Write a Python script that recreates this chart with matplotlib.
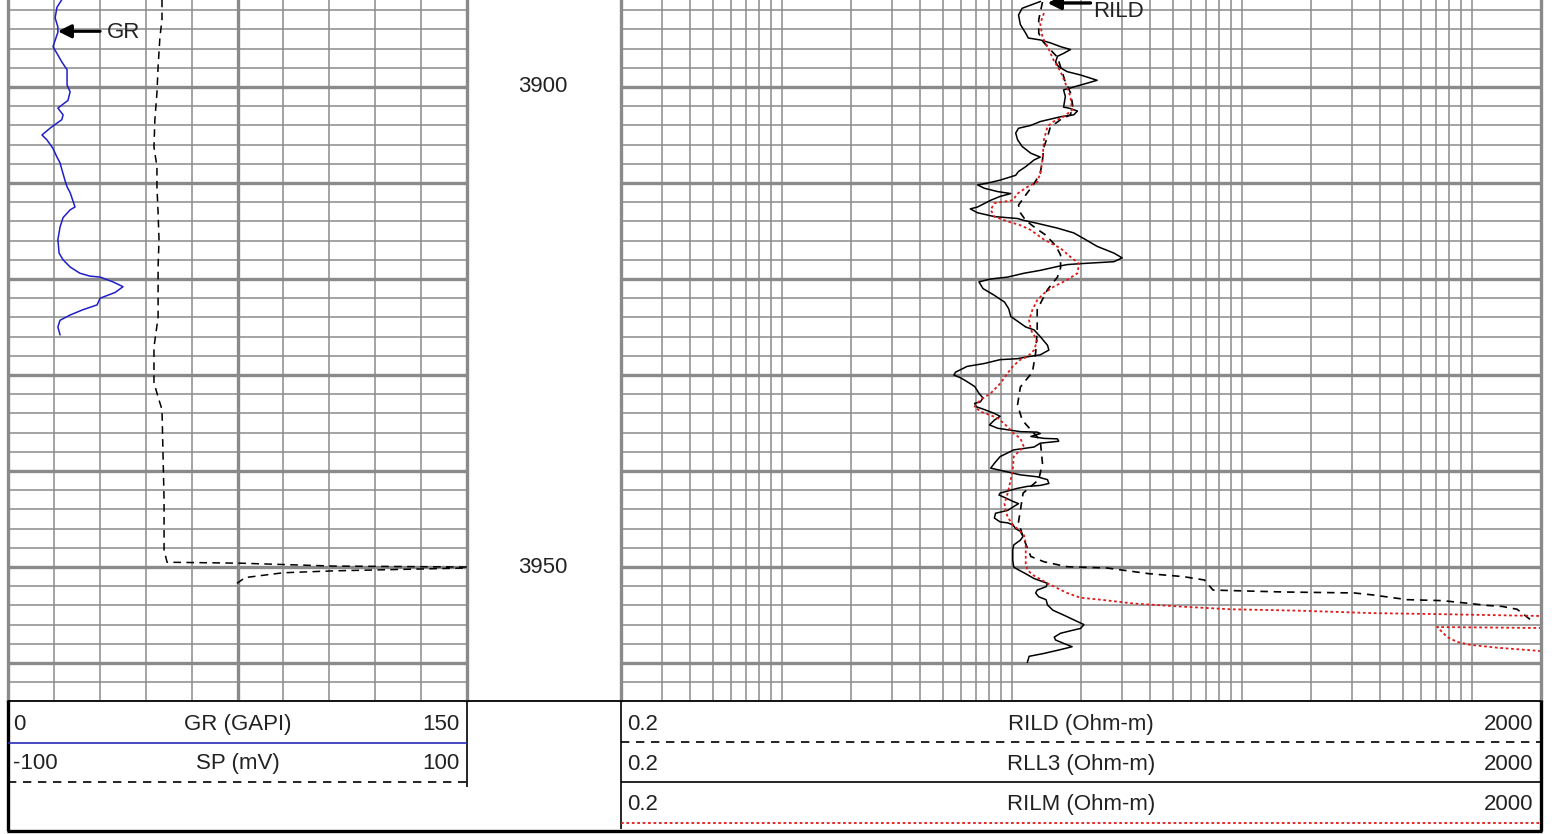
import matplotlib.pyplot as plt
import numpy as np
from matplotlib.ticker import MultipleLocator, FixedLocator, LogLocator

plt.rcParams['font.family'] = ['Liberation Sans', 'DejaVu Sans']

# depth window shown (m)
top_depth = 3890.94
base_depth = 3963.85
depth_labels = [3900, 3950]

# GR (GAPI)
gr_depth = [3890.9, 3891.7, 3892.8, 3893.75, 3894.3, 3895.8, 3896.5, 3897.4, 3898.2, 3899.8,
            3900.5, 3901.4, 3902.2, 3902.9, 3903.4, 3904.3, 3905.0, 3905.5, 3906.4, 3907.3,
            3907.9, 3908.6, 3909.7, 3910.4, 3911.0, 3912.5, 3912.8, 3913.6, 3914.6, 3915.9,
            3917.3, 3918.0, 3918.75, 3919.4, 3919.7, 3919.8, 3920.3, 3920.8, 3921.4, 3922.0,
            3922.7, 3923.2, 3923.75, 3924.3, 3925.0, 3925.8]
gr_value = [17.6, 16.0, 15.4, 16.3, 16.3, 14.7, 16.0, 17.6, 19.3, 19.3,
            20.3, 19.6, 16.3, 18.0, 17.6, 13.7, 11.1, 12.7, 14.7, 16.0,
            17.0, 17.6, 18.6, 19.3, 20.3, 21.9, 20.3, 18.0, 17.0, 16.3,
            16.7, 18.0, 20.3, 23.5, 26.8, 30.1, 34.3, 37.6, 35.0, 30.1,
            29.1, 24.5, 20.3, 17.0, 16.3, 17.0]

# SP (mV)
sp_depth = [3890.9, 3893.0, 3894.8, 3897.9, 3900.6, 3903.4, 3906.25, 3908.3, 3910.4, 3913.1,
            3915.9, 3918.75, 3921.5, 3924.0, 3927.1, 3930.8, 3932.3, 3933.6, 3937.8, 3943.0,
            3948.2, 3949.5, 3949.6, 3949.9, 3950.0, 3950.1, 3950.4, 3950.6, 3951.1, 3951.7]
sp_value = [-32.9, -32.9, -33.8, -34.6, -35.1, -36.0, -36.4, -35.1, -35.1, -34.6,
            -34.2, -34.6, -34.6, -34.6, -36.4, -36.4, -34.6, -32.9, -32.5, -32.0,
            -32.0, -30.7, 1.1, 41.6, 100, 100, 41.6, 19.8, 3.3, -0.2]

# RLL3 (Ohm-m)
rll3_depth = [3891.1, 3891.8, 3892.5, 3893.5, 3894.4, 3894.9, 3895.1, 3895.4, 3895.8, 3896.1,
              3896.5, 3896.8, 3897.4, 3897.9, 3898.4, 3898.75, 3899.3, 3899.6, 3900.0, 3900.3,
              3901.0, 3902.1, 3902.2, 3902.5, 3902.9, 3903.1, 3903.6, 3904.0, 3904.3, 3904.8,
              3905.5, 3906.2, 3906.9, 3907.3, 3907.6, 3908.3, 3908.8, 3909.2, 3909.7, 3910.0,
              3910.2, 3910.55, 3910.9, 3911.1, 3911.4, 3911.8, 3912.5, 3912.7, 3913.1, 3913.5,
              3913.7, 3913.9, 3914.2, 3914.7, 3915.2, 3915.8, 3916.6, 3917.3, 3917.8, 3918.2,
              3918.3, 3918.4, 3918.5, 3918.7, 3919.1, 3919.4, 3919.8, 3920.0, 3920.3, 3921.0,
              3921.7, 3922.4, 3923.1, 3923.9, 3924.4, 3925.0, 3925.3, 3926.0, 3926.9, 3927.4,
              3927.9, 3928.1, 3928.3, 3928.4, 3928.8, 3929.1, 3929.7, 3930.0, 3930.3, 3930.7,
              3931.2, 3931.9, 3932.4, 3932.8, 3932.95, 3933.3, 3933.6, 3934.0, 3934.3, 3934.7,
              3935.2, 3935.55, 3935.7, 3935.9, 3935.95, 3936.1, 3936.4, 3936.6, 3936.65, 3936.9,
              3937.1, 3937.5, 3937.6, 3937.8, 3938.5, 3939.2, 3939.7, 3940.1, 3940.4, 3940.6,
              3940.9, 3941.3, 3941.5, 3941.6, 3941.8, 3942.0, 3942.3, 3942.5, 3942.8, 3943.2,
              3943.4, 3943.7, 3944.1, 3944.4, 3944.9, 3945.3, 3945.4, 3945.6, 3946.0, 3946.3,
              3946.8, 3947.2, 3947.7, 3948.2, 3949.3, 3950.0, 3950.3, 3950.7, 3951.2, 3951.7,
              3952.05, 3952.4, 3952.7, 3953.1, 3953.4, 3953.95, 3954.5, 3955.0, 3955.5, 3956.0,
              3956.4, 3956.6, 3956.9, 3957.3, 3957.6, 3957.95, 3958.3, 3958.6, 3959.0, 3959.2,
              3959.3, 3959.9]
rll3_value = [13.3, 11.1, 10.7, 10.9, 11.5, 11.8, 13.3, 14.7, 16.3, 18.0,
              16.8, 15.8, 15.5, 16.0, 17.4, 19.9, 23.5, 21.3, 18.6, 16.8,
              17.1, 16.8, 17.7, 19.3, 18.6, 16.3, 13.3, 12.1, 10.7, 10.4,
              10.6, 11.1, 12.1, 13.3, 12.5, 11.5, 10.7, 10.4, 8.9, 7.9,
              7.1, 7.6, 8.7, 9.9, 8.9, 8.1, 7.1, 6.6, 7.1, 8.4,
              10.6, 11.3, 12.9, 15.8, 18.6, 20.6, 23.5, 27.8, 30.2, 27.8,
              23.5, 19.9, 17.4, 15.8, 13.3, 11.3, 9.6, 8.1, 7.2, 7.5,
              8.4, 9.3, 9.7, 9.9, 10.6, 11.5, 12.5, 13.3, 14.3, 14.5,
              13.3, 11.7, 10.6, 8.9, 7.6, 6.4, 5.7, 5.6, 6.0, 6.4,
              6.9, 7.2, 7.5, 7.3, 6.9, 7.0, 7.6, 8.4, 8.9, 8.4,
              8.0, 8.7, 9.6, 10.9, 12.9, 13.3, 12.1, 13.8, 15.8, 16.0,
              13.3, 12.5, 11.7, 10.2, 8.9, 8.4, 8.1, 9.6, 10.9, 12.9,
              14.3, 14.5, 13.3, 11.7, 10.6, 9.9, 8.9, 8.8, 9.4, 10.2,
              10.7, 10.2, 9.6, 8.5, 8.4, 8.9, 9.6, 10.1, 10.4, 10.9,
              11.2, 10.9, 10.2, 10.1, 10.1, 10.2, 10.7, 11.5, 12.5, 14.3,
              14.1, 12.9, 12.7, 13.1, 14.1, 14.3, 15.1, 16.8, 18.6, 20.6,
              19.9, 18.3, 16.3, 15.3, 15.5, 16.8, 18.3, 16.3, 13.8, 12.5,
              11.9, 11.7]

# RILD (Ohm-m)
rild_depth = [3891.15, 3893.0, 3894.4, 3895.3, 3896.1, 3896.9, 3897.9, 3899.3, 3900.6, 3901.9,
              3902.9, 3903.4, 3904.2, 3905.2, 3906.25, 3907.6, 3909.0, 3910.2, 3911.25, 3912.3,
              3913.1, 3913.9, 3914.7, 3915.4, 3916.5, 3917.5, 3918.85, 3919.8, 3921.1, 3923.2,
              3925.3, 3927.7, 3929.7, 3931.25, 3933.1, 3934.7, 3936.8, 3939.2, 3940.9, 3942.3,
              3945.3, 3946.9, 3948.9, 3949.45, 3949.97, 3950.1, 3950.7, 3951.0, 3951.35, 3952.4,
              3952.6, 3952.7, 3952.9, 3953.4, 3953.5, 3953.8, 3954.0, 3954.1, 3954.4, 3955.2,
              3955.45]
rild_value = [13.6, 13.1, 13.1, 13.7, 14.7, 15.8, 16.3, 17.0, 18.0, 18.4,
              18.0, 16.3, 14.7, 14.3, 13.8, 13.6, 13.3, 12.4, 11.5, 10.7,
              10.9, 11.5, 12.7, 14.0, 15.5, 16.3, 16.3, 15.8, 14.3, 12.9,
              12.9, 12.7, 12.3, 10.9, 10.6, 11.1, 13.3, 13.6, 13.1, 11.2,
              10.7, 11.2, 12.1, 13.8, 17.4, 25.9, 39.7, 55.7, 68.8, 75.0,
              151.5, 308, 369, 524, 743, 984, 1166, 1354, 1574, 1738,
              1791]

# RILM (Ohm-m)
rilm_depth = [3892.3, 3893.4, 3894.8, 3896.1, 3897.2, 3898.4, 3899.6, 3901.0, 3902.4, 3903.1,
              3903.6, 3904.1, 3905.5, 3907.6, 3909.0, 3909.9, 3910.4, 3911.1, 3911.8, 3912.1,
              3912.8, 3913.5, 3914.0, 3914.4, 3914.9, 3915.9, 3916.8, 3917.7, 3918.4, 3919.4,
              3920.1, 3920.8, 3921.5, 3922.2, 3923.2, 3924.3, 3925.3, 3926.4, 3927.4, 3928.1,
              3928.4, 3929.1, 3929.8, 3930.9, 3931.9, 3932.6, 3933.3, 3933.8, 3934.2, 3934.5,
              3935.4, 3936.1, 3936.6, 3937.5, 3937.8, 3938.5, 3939.9, 3940.9, 3942.3, 3943.4,
              3944.1, 3944.8, 3945.6, 3946.1, 3946.7, 3947.5, 3948.6, 3949.6, 3950.3, 3950.8,
              3951.7, 3952.7, 3953.2, 3953.4, 3953.8, 3954.1, 3954.4, 3954.55, 3954.8, 3954.9,
              3955.1, 3956.35, 3956.25, 3957.3, 3957.8, 3958.1, 3958.4, 3958.75]
rilm_value = [13.8, 13.3, 13.6, 14.5, 15.2, 16.3, 17.1, 18.0, 18.3, 16.8,
              15.2, 14.3, 13.8, 13.6, 13.3, 12.9, 11.7, 10.6, 10.1, 8.4,
              8.1, 8.4, 9.6, 10.9, 12.1, 13.8, 16.3, 18.0, 19.6, 19.3,
              17.4, 15.2, 13.8, 12.9, 12.3, 11.9, 12.1, 12.9, 12.5, 11.7,
              10.9, 10.1, 9.6, 8.9, 8.1, 7.3, 6.9, 7.3, 8.1, 8.7,
              9.6, 10.2, 10.9, 11.3, 10.9, 10.2, 10.1, 9.9, 9.6, 9.3,
              9.4, 9.6, 10.1, 10.7, 11.3, 11.5, 11.5, 11.5, 11.7, 12.3,
              14.3, 17.4, 19.9, 24.3, 33.8, 52.5, 89.2, 181.5, 369, 693,
              2000, 2000, 707, 782, 864, 984, 1288, 2000]

W, H = 1554, 834
grid_c = '#8a8a8a'
txt_c = '#222222'
fs = 16


def box(x0, x1, y0, y1):
    return [x0 / W, 1 - y1 / H, (x1 - x0) / W, (y1 - y0) / H]


fig = plt.figure(figsize=(W / 100, H / 100), dpi=100)

ax_gr = fig.add_axes(box(8, 467, 0, 700))
ax_dep = fig.add_axes(box(467, 621, 0, 700))
ax_res = fig.add_axes(box(621, 1541, 0, 700))
ax_hd = fig.add_axes(box(0, W, 700, H))


def style_track(ax):
    ax.set_ylim(base_depth, top_depth)
    ax.yaxis.set_major_locator(MultipleLocator(10))
    ax.yaxis.set_minor_locator(MultipleLocator(2))
    ax.yaxis.grid(True, which='major', color=grid_c, lw=2.4)
    ax.yaxis.grid(True, which='minor', color=grid_c, lw=1.1)
    ax.set_axisbelow(True)
    ax.tick_params(which='both', length=0, labelbottom=False, labelleft=False)
    for s in ['top', 'bottom']:
        ax.spines[s].set_visible(False)
    for s in ['left', 'right']:
        ax.spines[s].set_color(grid_c)
        ax.spines[s].set_linewidth(2.4)


# left track: GR + SP
ax_gr.set_xlim(0, 150)
ax_gr.xaxis.set_major_locator(FixedLocator([75]))
ax_gr.xaxis.set_minor_locator(MultipleLocator(15))
ax_gr.xaxis.grid(True, which='major', color=grid_c, lw=2.4)
ax_gr.xaxis.grid(True, which='minor', color=grid_c, lw=1.1)
style_track(ax_gr)
ax_gr.plot(gr_value, gr_depth, color='#1f1fc8', lw=1.1)
ax_gr.annotate('', xy=(16.3, 3894.2), xytext=(30.1, 3894.2),
               arrowprops=dict(arrowstyle='-|>', color='black', lw=2.2,
                               mutation_scale=20, shrinkA=0, shrinkB=0))
ax_gr.text(32.4, 3894.93, 'GR', fontsize=fs, color=txt_c, va='baseline', ha='left')

ax_sp = ax_gr.twiny()
ax_sp.set_xlim(-100, 100)
ax_sp.set_ylim(base_depth, top_depth)
ax_sp.axis('off')
ax_sp.plot(sp_value, sp_depth, color='black', lw=1.1, dashes=(5, 3.5))

# depth track
ax_dep.set_xlim(0, 1)
ax_dep.set_ylim(base_depth, top_depth)
ax_dep.axis('off')
for d in depth_labels:
    ax_dep.text(0.49, d, str(d), fontsize=fs, color=txt_c, ha='center', va='center')

# right track: resistivity, log scale
ax_res.set_xscale('log')
ax_res.set_xlim(0.2, 2000)
ax_res.xaxis.set_major_locator(LogLocator(base=10, numticks=20))
ax_res.xaxis.set_minor_locator(LogLocator(base=10, subs=np.arange(2, 10), numticks=20))
ax_res.xaxis.grid(True, which='both', color=grid_c, lw=1.1)
style_track(ax_res)
ax_res.plot(rll3_value, rll3_depth, color='black', lw=1.1)
ax_res.plot(rild_value, rild_depth, color='black', lw=1.2, dashes=(4.5, 3.5))
ax_res.plot(rilm_value, rilm_depth, color='#e01818', lw=1.3, dashes=(1.5, 1.5))
ax_res.annotate('', xy=(14.3, 3891.25), xytext=(22.0, 3891.25), annotation_clip=False,
                arrowprops=dict(arrowstyle='-|>', color='black', lw=2.4,
                                mutation_scale=20, shrinkA=0, shrinkB=0))
ax_res.text(22.6, 3892.75, 'RILD', fontsize=fs, color=txt_c, va='baseline', ha='left')

# header block
ax_hd.set_xlim(0, W)
ax_hd.set_ylim(H, 700)
ax_hd.axis('off')
kw = dict(clip_on=False, solid_capstyle='butt')
ax_hd.plot([8, 1541], [701, 701], color='black', lw=1.3, **kw)
ax_hd.plot([8, 8], [700, 831], color='black', lw=2.4, **kw)
ax_hd.plot([1541, 1541], [700, 831], color='black', lw=2.4, **kw)
ax_hd.plot([7, 1542], [831, 831], color='black', lw=2.4, **kw)
ax_hd.plot([467, 467], [701, 787], color='black', lw=1.2, **kw)
ax_hd.plot([621, 621], [701, 829], color='black', lw=1.2, **kw)
ax_hd.plot([8, 467], [742.5, 742.5], color='#2a2ab8', lw=1.2, **kw)
ax_hd.plot([8, 467], [782, 782], color='black', lw=1.2, dashes=(5, 4), **kw)
ax_hd.plot([621, 1541], [742, 742], color='black', lw=1.2, dashes=(5, 4), **kw)
ax_hd.plot([621, 1541], [782, 782], color='black', lw=1.2, **kw)
ax_hd.plot([621, 1541], [823, 823], color='#e01818', lw=1.3, dashes=(1.5, 1.5), **kw)

rows_left = [('0', 'GR (GAPI)', '150', 730), ('-100', 'SP (mV)', '100', 769)]
for lo, name, hi, yb in rows_left:
    ax_hd.text(13, yb, lo, fontsize=fs, color=txt_c, va='baseline', ha='left')
    ax_hd.text(238, yb, name, fontsize=fs, color=txt_c, va='baseline', ha='center')
    ax_hd.text(460, yb, hi, fontsize=fs, color=txt_c, va='baseline', ha='right')

rows_right = [('0.2', 'RILD (Ohm-m)', '2000', 730), ('0.2', 'RLL3 (Ohm-m)', '2000', 770),
              ('0.2', 'RILM (Ohm-m)', '2000', 810)]
for lo, name, hi, yb in rows_right:
    ax_hd.text(627, yb, lo, fontsize=fs, color=txt_c, va='baseline', ha='left')
    ax_hd.text(1081, yb, name, fontsize=fs, color=txt_c, va='baseline', ha='center')
    ax_hd.text(1533, yb, hi, fontsize=fs, color=txt_c, va='baseline', ha='right')

fig.savefig('out.png', dpi=100, facecolor='white')
